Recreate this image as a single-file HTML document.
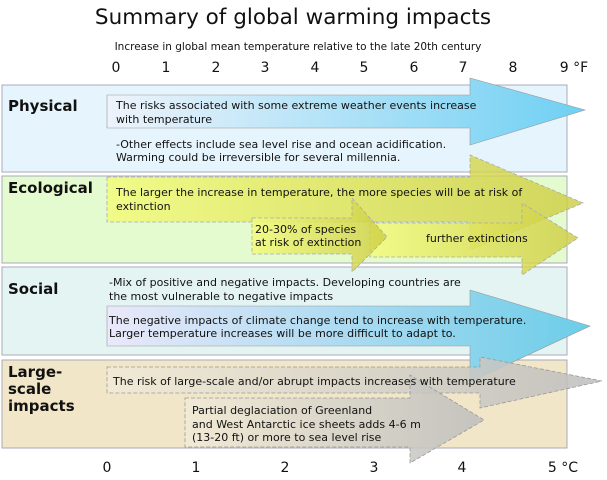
<!DOCTYPE html>
<html><head><style>body{margin:0;background:#fff}svg{display:block}text{font-family:"DejaVu Sans","Liberation Sans",sans-serif;fill:#111}</style></head><body>
<svg width="607" height="480" viewBox="0 0 607 480">
<defs>
<linearGradient id="gb" x1="0" x2="1"><stop offset="0" stop-color="#eef3fb"/><stop offset="1" stop-color="#6fd0f3"/></linearGradient>
<linearGradient id="gs" x1="0" x2="1"><stop offset="0" stop-color="#eae8fa"/><stop offset="1" stop-color="#6ccde8"/></linearGradient>
<linearGradient id="gy" x1="0" x2="1"><stop offset="0" stop-color="#f2fb80" stop-opacity=".9"/><stop offset="1" stop-color="#cccc40" stop-opacity=".8"/></linearGradient>
<linearGradient id="gg" x1="0" x2="1"><stop offset="0" stop-color="#f1ead6" stop-opacity=".9"/><stop offset="1" stop-color="#bdbdbd" stop-opacity=".85"/></linearGradient>
</defs>
<text x="293" y="24" font-size="21.5" text-anchor="middle">Summary of global warming impacts</text>
<text x="298" y="50" font-size="10.5" text-anchor="middle">Increase in global mean temperature relative to the late 20th century</text>
<g font-size="14" text-anchor="middle">
<text x="116" y="72">0</text><text x="166" y="72">1</text><text x="216" y="72">2</text><text x="265" y="72">3</text><text x="315" y="72">4</text><text x="364" y="72">5</text><text x="414" y="72">6</text><text x="463" y="72">7</text><text x="513" y="72">8</text><text x="574" y="72">9 °F</text>
<text x="107" y="472">0</text><text x="196" y="472">1</text><text x="285" y="472">2</text><text x="374" y="472">3</text><text x="462" y="472">4</text><text x="563" y="472">5 °C</text>
</g>
<rect x="2" y="85" width="565" height="87" fill="#e6f5fd" stroke="#aab" stroke-width="1"/>
<rect x="2" y="176" width="565" height="87" fill="#e4fbd0" stroke="#aab"/>
<rect x="2" y="267" width="565" height="88" fill="#e4f4f3" stroke="#aab"/>
<rect x="2" y="360" width="565" height="88" fill="#f2e6c8" stroke="#aab"/>
<g font-size="15" font-weight="bold">
<text x="8" y="111">Physical</text><text x="8" y="193">Ecological</text><text x="8" y="294">Social</text>
<text x="8" y="377">Large-</text><text x="8" y="394">scale</text><text x="8" y="411">impacts</text>
</g>
<path d="M107 95H470V78L585 110L470 145V128H107Z" fill="url(#gb)" stroke="#999" stroke-width=".6"/>
<path d="M107 177H470V155L583 203L470 250V222H107Z" fill="url(#gy)" stroke="#aaa" stroke-dasharray="4,2" stroke-width=".8"/>
<path d="M370 223H522V203L578 238L522 275V257H370Z" fill="url(#gy)" stroke="#aaa" stroke-dasharray="4,2" stroke-width=".8"/>
<path d="M252 218H352V198L387 237L352 272V254H252Z" fill="url(#gy)" stroke="#aaa" stroke-dasharray="4,2" stroke-width=".8"/>
<path d="M107 306H470V290L590 326L470 382V346H107Z" fill="url(#gs)" stroke="#999" stroke-width=".6"/>
<path d="M107 367H480V357L602 381L480 408V393H107Z" fill="url(#gg)" stroke="#999" stroke-dasharray="4,2" stroke-width=".8"/>
<path d="M185 398H410V375L484 420L410 463V447H185Z" fill="url(#gg)" stroke="#999" stroke-dasharray="4,2" stroke-width=".8"/>
<g font-size="11">
<text x="116" y="109">The risks associated with some extreme weather events increase</text>
<text x="116" y="123">with temperature</text>
<text x="116" y="148">-Other effects include sea level rise and ocean acidification.</text>
<text x="116" y="161">Warming could be irreversible for several millennia.</text>
<text x="116" y="196">The larger the increase in temperature, the more species will be at risk of</text>
<text x="116" y="210">extinction</text>
<text x="255" y="233">20-30% of species</text>
<text x="255" y="246">at risk of extinction</text>
<text x="426" y="242">further extinctions</text>
<text x="109" y="286">-Mix of positive and negative impacts. Developing countries are</text>
<text x="109" y="300">the most vulnerable to negative impacts</text>
<text x="109" y="324">The negative impacts of climate change tend to increase with temperature.</text>
<text x="109" y="337">Larger temperature increases will be more difficult to adapt to.</text>
<text x="113" y="385">The risk of large-scale and/or abrupt impacts increases with temperature</text>
<text x="192" y="414">Partial deglaciation of Greenland</text>
<text x="192" y="428">and West Antarctic ice sheets adds 4-6 m</text>
<text x="192" y="441">(13-20 ft) or more to sea level rise</text>
</g>
</svg>
</body></html>
